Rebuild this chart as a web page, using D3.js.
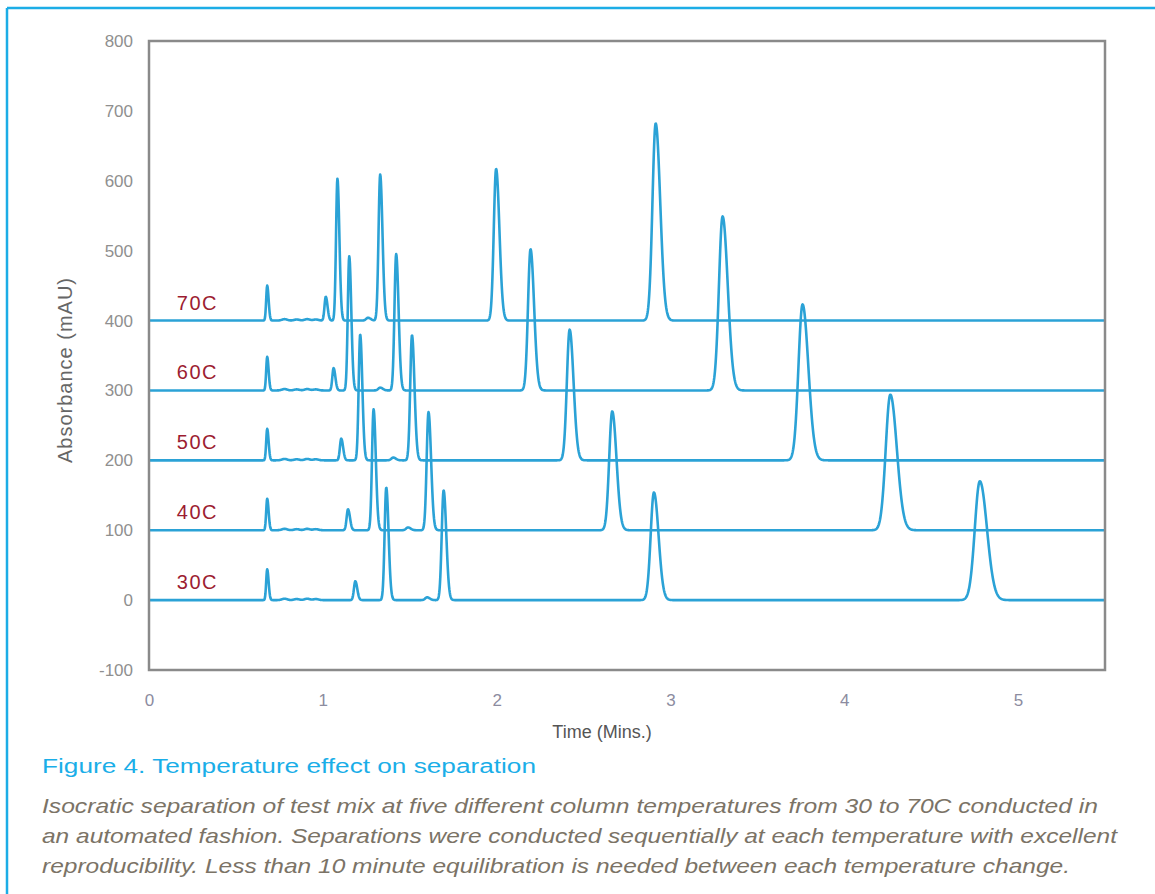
<!DOCTYPE html>
<html>
<head>
<meta charset="utf-8">
<script src="https://cdn.jsdelivr.net/npm/d3@7"></script>
<style>
  body { margin: 0; background: #fff; }
  svg { display: block; }
</style>
</head>
<body>
<div id="chart"></div>
<script>
// Temperature traces, stacked by a fixed offset (mAU)
const temps = ['30C', '40C', '50C', '60C', '70C'];
const offsets = [0, 100, 200, 300, 400];

// Peaks: retention time (min), height (mAU), width at half height (min)
const times30 = [0.68, 1.187, 1.365, 1.60, 1.695, 2.905, 4.78];
const heights30 = [44, 27, 161, 4, 157, 154, 170];
const widths30 = [0.016, 0.022, 0.026, 0.030, 0.030, 0.052, 0.080];

const times40 = [0.68, 1.145, 1.292, 1.49, 1.608, 2.665, 4.265];
const heights40 = [45, 30, 173, 4, 169, 170, 194];
const widths40 = [0.016, 0.022, 0.025, 0.030, 0.029, 0.048, 0.073];

const times50 = [0.68, 1.106, 1.215, 1.405, 1.513, 2.42, 3.76];
const heights50 = [45, 31, 180, 4, 179, 187, 223];
const widths50 = [0.016, 0.021, 0.024, 0.030, 0.028, 0.044, 0.065];

const times60 = [0.68, 1.062, 1.152, 1.33, 1.422, 2.195, 3.30];
const heights60 = [48, 32, 192, 4, 195, 202, 249];
const widths60 = [0.016, 0.020, 0.023, 0.030, 0.027, 0.040, 0.058];

const times70 = [0.68, 1.017, 1.084, 1.26, 1.33, 1.997, 2.915];
const heights70 = [50, 34, 203, 4, 209, 217, 282];
const widths70 = [0.016, 0.020, 0.022, 0.030, 0.026, 0.037, 0.051];

// small baseline ripples after the void peak
const rippleTimes = [0.78, 0.85, 0.91, 0.96];
const rippleHeights = [2, 1.5, 2, 1.5];

const yTicks = [-100, 0, 100, 200, 300, 400, 500, 600, 700, 800];
const xTicks = [0, 1, 2, 3, 4, 5];

const captionTitle = 'Figure 4. Temperature effect on separation';
const captionLines = [
  'Isocratic separation of test mix at five different column temperatures from 30 to 70C conducted in',
  'an automated fashion. Separations were conducted sequentially at each temperature with excellent',
  'reproducibility. Less than 10 minute equilibration is needed between each temperature change.'
];

const peakTimes = [times30, times40, times50, times60, times70];
const peakHeights = [heights30, heights40, heights50, heights60, heights70];
const peakWidths = [widths30, widths40, widths50, widths60, widths70];

const width = 1155;
const height = 894;
const plot = { left: 149, right: 1105, top: 41, bottom: 670 };
const font = 'Liberation Sans, Arial, sans-serif';

const svg = d3.select('#chart')
  .append('svg')
  .attr('width', width)
  .attr('height', height);

// Cyan page frame (top and left rules)
svg.append('line')
  .attr('x1', 7).attr('x2', width).attr('y1', 8).attr('y2', 8)
  .attr('stroke', '#1cade6').attr('stroke-width', 2.5);
svg.append('line')
  .attr('x1', 7).attr('x2', 7).attr('y1', 8).attr('y2', height)
  .attr('stroke', '#1cade6').attr('stroke-width', 2.5);

// Create scales
const xScale = d3.scaleLinear()
  .domain([0, 5.5])
  .range([plot.left, plot.right]);

const yScale = d3.scaleLinear()
  .domain([-100, 800])
  .range([plot.bottom, plot.top]);

// Build a trace from its peak table (slightly tailing peaks)
function traceValue(t, k) {
  let v = offsets[k];
  peakTimes[k].forEach((tr, i) => {
    const s = peakWidths[k][i] / 2.355;
    const sig = t < tr ? s * 0.85 : s * 1.2;
    v += peakHeights[k][i] * Math.exp(-0.5 * ((t - tr) / sig) ** 2);
  });
  rippleTimes.forEach((tr, i) => {
    v += rippleHeights[i] * Math.exp(-0.5 * ((t - tr) / 0.015) ** 2);
  });
  return v;
}

const samples = d3.range(0, 5.5 + 1e-9, 0.002);

const line = d3.line()
  .x(d => xScale(d[0]))
  .y(d => yScale(d[1]));

temps.forEach((name, k) => {
  const pts = samples.map(t => [t, traceValue(t, k)]);
  svg.append('path')
    .datum(pts)
    .attr('d', line)
    .attr('fill', 'none')
    .attr('stroke', '#2ba2d6')
    .attr('stroke-width', 2.6)
    .attr('stroke-linejoin', 'round');

  svg.append('text')
    .attr('x', xScale(0.16))
    .attr('y', yScale(offsets[k]) - 11)
    .attr('fill', '#9c1c31')
    .attr('font-family', font)
    .attr('font-size', 20)
    .attr('letter-spacing', 1.5)
    .text(name);
});

// Plot frame
svg.append('rect')
  .attr('x', plot.left)
  .attr('y', plot.top)
  .attr('width', plot.right - plot.left)
  .attr('height', plot.bottom - plot.top)
  .attr('fill', 'none')
  .attr('stroke', '#8a8a8a')
  .attr('stroke-width', 2.5);

// Add y-axis labels
const yAxis = svg.append('g')
  .attr('transform', `translate(${plot.left - 10}, 0)`)
  .call(d3.axisLeft(yScale).tickValues(yTicks).tickSize(0).tickPadding(6)
    .tickFormat(d => String(d)));
yAxis.select('.domain').remove();
yAxis.selectAll('text')
  .attr('fill', '#8f8f8f')
  .attr('font-size', 17)
  .attr('font-family', font);

// Add x-axis labels
const xAxis = svg.append('g')
  .attr('transform', `translate(0, ${plot.bottom + 22})`)
  .call(d3.axisBottom(xScale).tickValues(xTicks).tickSize(0).tickPadding(2)
    .tickFormat(d => String(d)));
xAxis.select('.domain').remove();
xAxis.selectAll('text')
  .attr('fill', '#8c8ca0')
  .attr('font-size', 17)
  .attr('font-family', font);

// Axis titles
svg.append('text')
  .attr('x', 602)
  .attr('y', 738)
  .attr('text-anchor', 'middle')
  .attr('fill', '#555')
  .attr('font-family', font)
  .attr('font-size', 18)
  .text('Time (Mins.)');

svg.append('text')
  .attr('transform', 'translate(72, 370) rotate(-90)')
  .attr('text-anchor', 'middle')
  .attr('fill', '#666')
  .attr('font-family', font)
  .attr('font-size', 20)
  .attr('letter-spacing', 1)
  .text('Absorbance (mAU)');

// Figure caption
svg.append('text')
  .attr('x', 42)
  .attr('y', 773)
  .attr('fill', '#1aaee8')
  .attr('font-family', font)
  .attr('font-size', 20)
  .attr('textLength', 494)
  .attr('lengthAdjust', 'spacingAndGlyphs')
  .text(captionTitle);

const lineEnds = [1098, 1117, 1070];
captionLines.forEach((s, i) => {
  svg.append('text')
    .attr('x', 42)
    .attr('y', 813 + i * 30)
    .attr('fill', '#7b7366')
    .attr('font-family', font)
    .attr('font-style', 'italic')
    .attr('font-size', 21)
    .attr('textLength', lineEnds[i] - 42)
    .attr('lengthAdjust', 'spacingAndGlyphs')
    .text(s);
});
</script>
</body>
</html>
